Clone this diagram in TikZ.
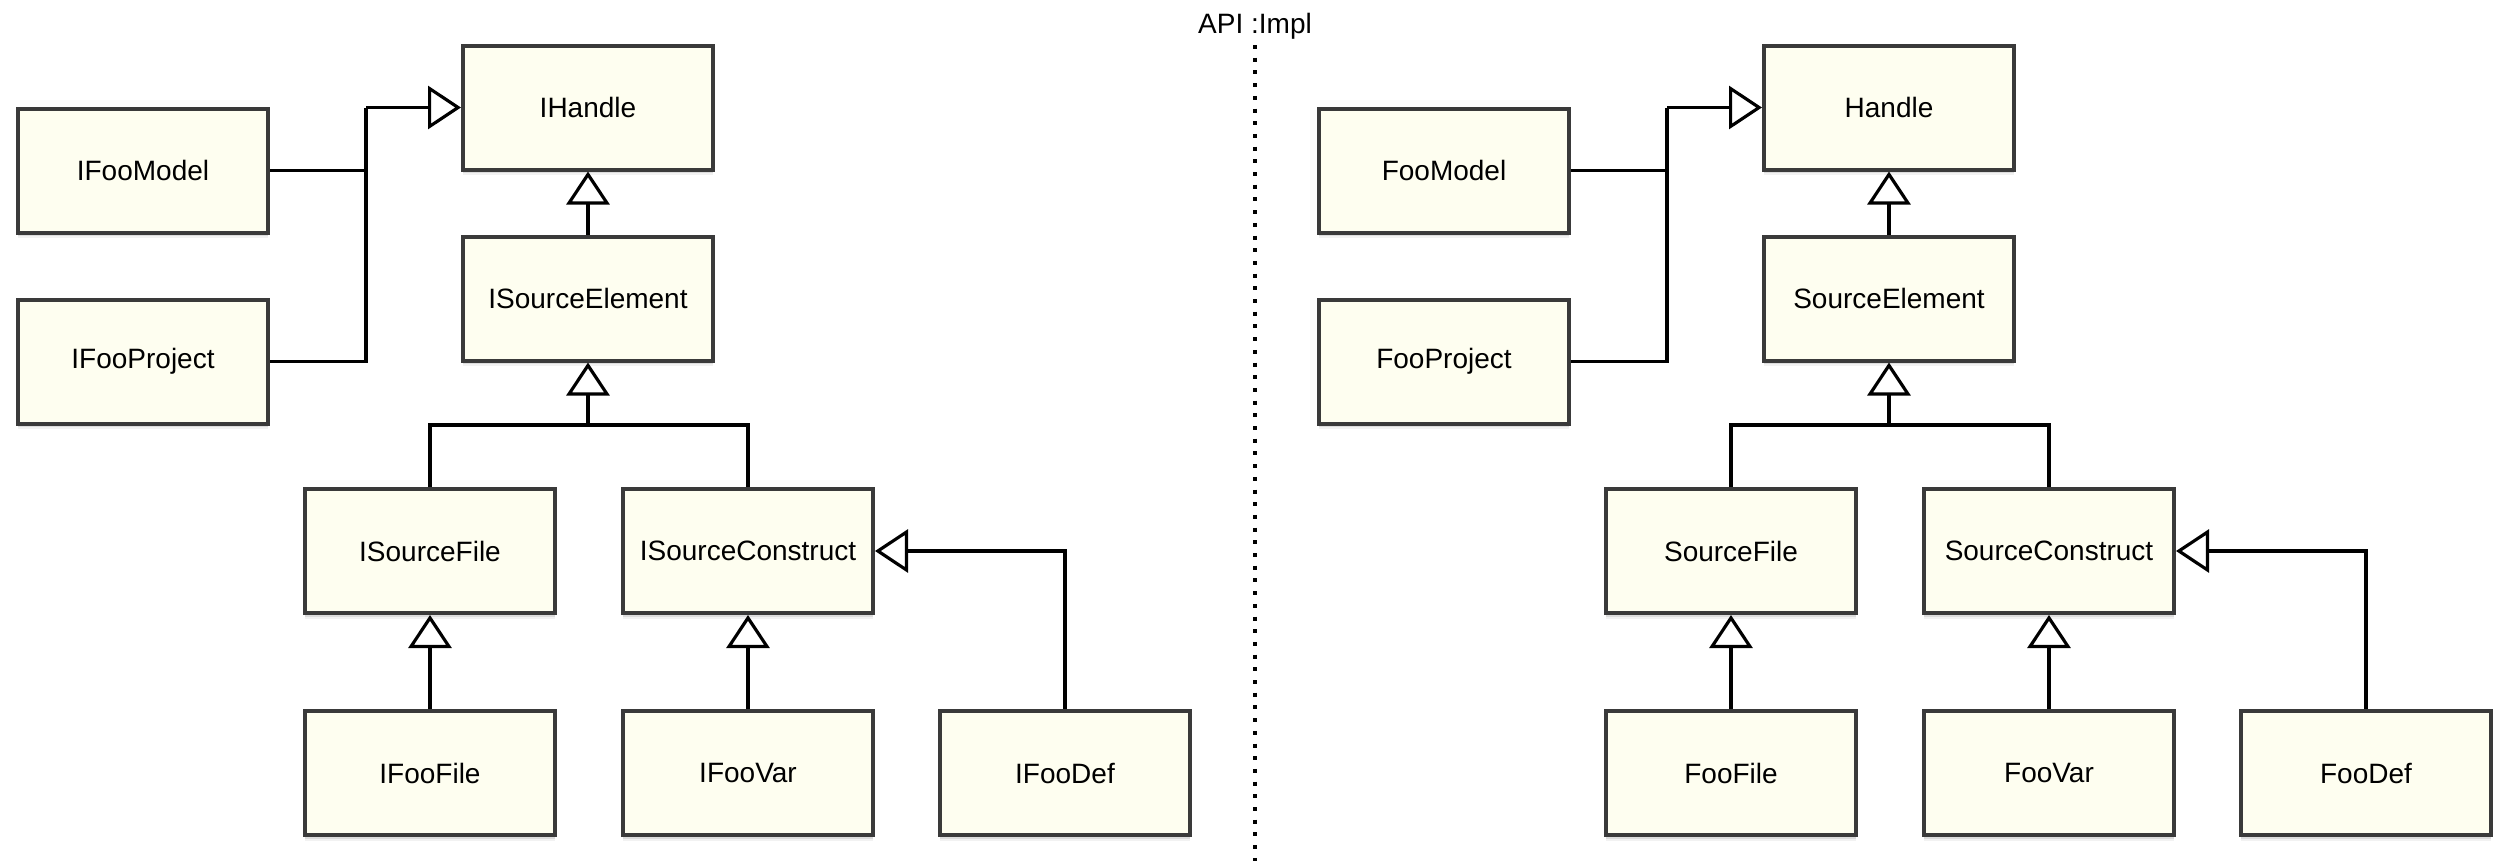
\documentclass[tikz,border=0pt]{standalone}
\usepackage{fontspec}
\setmainfont{Liberation Sans}
\usetikzlibrary{arrows.meta,shadows}
\definecolor{boxfill}{HTML}{FEFEF0}
\definecolor{boxline}{HTML}{3A3A3A}
\tikzset{
  umlbox/.style={draw=boxline, fill=boxfill, line width=1.2pt,
    minimum width=75pt, minimum height=37.2pt, inner sep=0pt,
    font=\fontsize{8.4}{10}\selectfont,
    drop shadow={shadow xshift=0pt, shadow yshift=-0.5pt, opacity=0.14, fill=black},
    drop shadow={shadow xshift=0pt, shadow yshift=-1.1pt, opacity=0.09, fill=black},
    drop shadow={shadow xshift=0pt, shadow yshift=-1.7pt, opacity=0.05, fill=black}},
  link/.style={draw=black, line width=0.95pt},
  inherit/.style={link, -{Triangle[open, length=9.9pt, width=12.9pt, line width=0.95pt]}},
  apiline/.style={draw=black, line width=1.2pt, dash pattern=on 1.2pt off 2.61pt},
}
\begin{document}
\begin{tikzpicture}[x=0.3pt, y=-0.3pt]
  \useasboundingbox (0,0) rectangle (2508,861);

  % API / implementation separator
  \node[anchor=base, font=\fontsize{8.4}{10}\selectfont, inner sep=0pt] (sepLabel) at (1255,33) {API :Impl};
  \coordinate (sepTop) at (1255,45);
  \coordinate (sepBottom) at (1255,861);
  \draw[apiline] (sepTop) -- (sepBottom);

  % the same hierarchy on both sides: interfaces (I-prefixed) and implementations
  \foreach \p/\dx/\pre in {L/0/I, R/1301/} {
    \begin{scope}[shift={(\dx,0)}]
      \node[umlbox] (\p handle)    at (588,107.5) {\pre Handle};
      \node[umlbox] (\p model)     at (143,170.5) {\pre FooModel};
      \node[umlbox] (\p project)   at (143,361.5) {\pre FooProject};
      \node[umlbox] (\p elem)      at (588,298.5) {\pre SourceElement};
      \node[umlbox] (\p file)      at (430,551)   {\pre SourceFile};
      \node[umlbox] (\p construct) at (748,551)   {\pre SourceConstruct};
      \node[umlbox] (\p ffile)     at (430,773)   {\pre FooFile};
      \node[umlbox] (\p var)       at (748,773)   {\pre FooVar};
      \node[umlbox] (\p def)       at (1065,773)  {\pre FooDef};

      \coordinate (\p j) at (366,107.5);
      \coordinate (\p b) at (588,425);

      % model and project join into one generalization
      \draw[link] (\p model.east) -| (\p j);
      \draw[link] (\p project.east) -| (\p j);
      \draw[inherit] (\p j) -- (\p handle.west);

      \draw[inherit] (\p elem.north) -- (\p handle.south);

      % file and construct share one generalization
      \draw[link] (\p file.north) |- (\p b) -| (\p construct.north);
      \draw[inherit] (\p b) -- (\p elem.south);

      \draw[inherit] (\p ffile.north) -- (\p file.south);
      \draw[inherit] (\p var.north) -- (\p construct.south);
      \draw[inherit] (\p def.north) |- (\p construct.east);
    \end{scope}
  }
\end{tikzpicture}
\end{document}
